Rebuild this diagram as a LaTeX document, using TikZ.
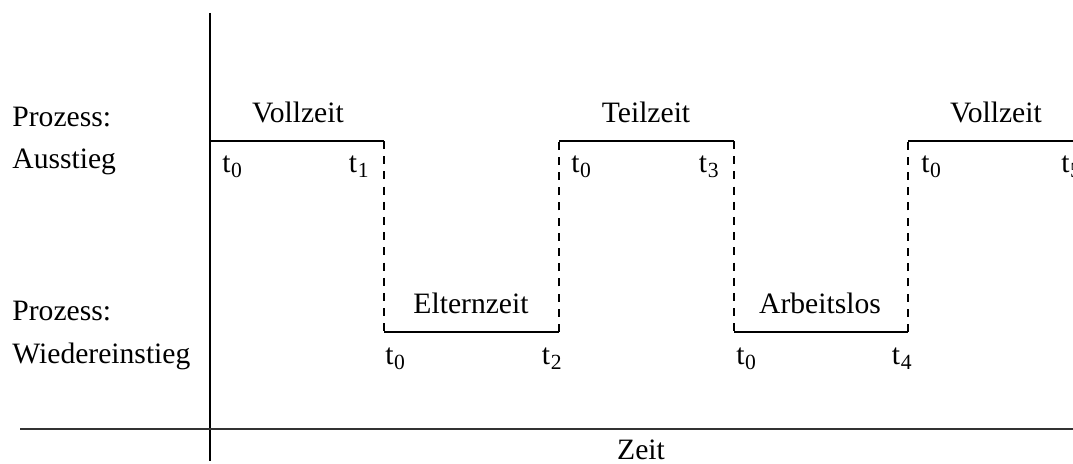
\documentclass[tikz,border=0pt]{standalone}
\usepackage{fontspec}
\setmainfont{Liberation Serif}
\newcommand{\tsb}[1]{t\kern0.3pt\raisebox{-0.35ex}{\fontsize{10.8}{12}\selectfont #1}}
\begin{document}
\begin{tikzpicture}[x=0.5pt,y=-0.5pt,
  lbl/.style={inner sep=0pt,font=\fontsize{14.8}{17}\selectfont},
  phase/.style={line width=0.6pt},
  jump/.style={line width=0.6pt,dash pattern=on 4pt off 3.6pt},
  axis/.style={line width=0.6pt}]
\useasboundingbox (0,0) rectangle (1073,464);
\clip (0,0) rectangle (1073,464);
% axes
\coordinate (ytop) at (210,13);
\coordinate (ybot) at (210,461);
\coordinate (xl) at (20,429);
\coordinate (xr) at (1073,429);
\draw[axis] (ytop) -- (ybot);
\draw[axis,black!80] (xl) -- (xr);
% level points
\coordinate (a0) at (210,141);
\coordinate (a1) at (384,141);
\coordinate (b1) at (384,332);
\coordinate (b2) at (559,332);
\coordinate (a2) at (559,141);
\coordinate (a3) at (734,141);
\coordinate (b3) at (734,332);
\coordinate (b4) at (908,332);
\coordinate (a4) at (908,141);
\coordinate (a5) at (1090,141);
\draw[phase] (a0) -- (a1);
\draw[jump] (a1) -- (b1);
\draw[phase] (b1) -- (b2);
\draw[jump] (b2) -- (a2);
\draw[phase] (a2) -- (a3);
\draw[jump] (a3) -- (b3);
\draw[phase] (b3) -- (b4);
\draw[jump] (b4) -- (a4);
\draw[phase] (a4) -- (a5);
% left labels
\node[lbl,anchor=base west] (p1) at (12,127) {Prozess:};
\node[lbl,anchor=base west] (p2) at (12,169) {Ausstieg};
\node[lbl,anchor=base west] (p3) at (12,321) {Prozess:};
\node[lbl,anchor=base west] (p4) at (12,364) {Wiedereinstieg};
% phase labels
\node[lbl,anchor=base] (v1) at (298,123) {Vollzeit};
\node[lbl,anchor=base] (tz) at (646,123) {Teilzeit};
\node[lbl,anchor=base] (v2) at (996,123) {Vollzeit};
\node[lbl,anchor=base] (ez) at (471,314) {Elternzeit};
\node[lbl,anchor=base] (al) at (820,314) {Arbeitslos};
% time labels upper
\node[lbl,anchor=base west] (u1) at (222,173) {\tsb{0}};
\node[lbl,anchor=base east] (u2) at (369,173) {\tsb{1}};
\node[lbl,anchor=base west] (u3) at (571,173) {\tsb{0}};
\node[lbl,anchor=base east] (u4) at (719,173) {\tsb{3}};
\node[lbl,anchor=base west] (u5) at (921,173) {\tsb{0}};
\node[lbl,anchor=base west] (u6) at (1061,173) {\tsb{5}};
% time labels lower
\node[lbl,anchor=base west] (l1) at (385,365) {\tsb{0}};
\node[lbl,anchor=base east] (l2) at (562,365) {\tsb{2}};
\node[lbl,anchor=base west] (l3) at (736,365) {\tsb{0}};
\node[lbl,anchor=base east] (l4) at (912,365) {\tsb{4}};
% axis label
\node[lbl,anchor=base] (zeit) at (641,460) {Zeit};
\end{tikzpicture}
\end{document}
